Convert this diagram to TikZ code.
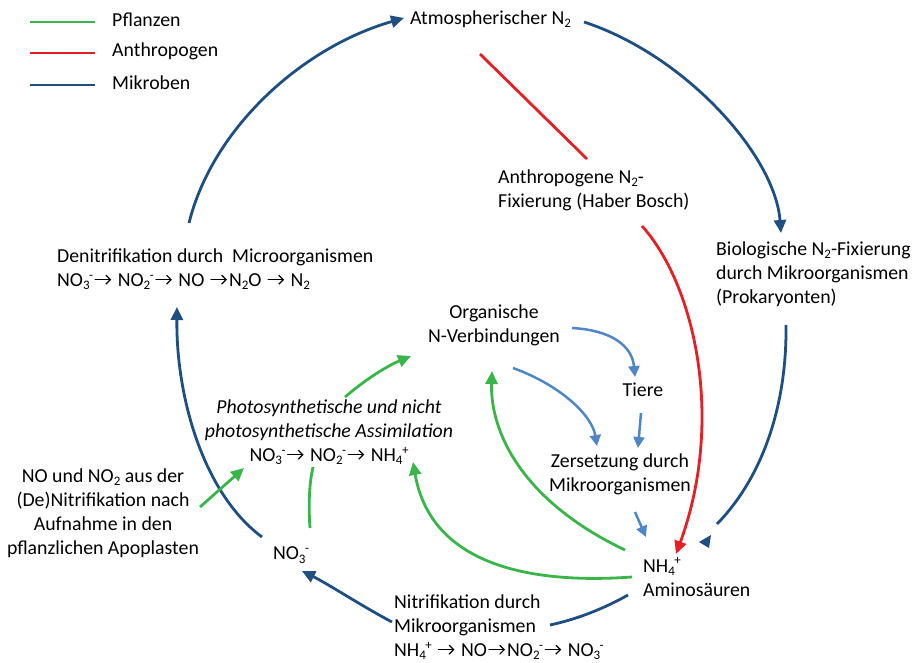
\documentclass[tikz,border=0pt]{standalone}
\usepackage{fontspec}
\setmainfont{Carlito}
\usetikzlibrary{arrows.meta}
\definecolor{cgreen}{RGB}{57,181,74}
\definecolor{cred}{RGB}{228,32,36}
\definecolor{cblue}{RGB}{31,78,128}
\definecolor{clblue}{RGB}{79,134,198}
\newcommand\rar{\kern1.5pt\tikz[baseline=-6.5pt]{\draw[line width=1.2pt,line cap=round,-{Straight Barb[length=4.5pt,width=9pt,line width=1.2pt]}] (0pt,0pt) -- (16pt,0pt);}\kern1.5pt}
\newcommand\lo[1]{\raisebox{-0.35ex}{\fontsize{13}{13}\selectfont #1}}
\newcommand\hi[1]{\raisebox{0.75ex}{\fontsize{13}{13}\selectfont #1}}
\newcommand\ion[2]{\lo{#1}\kern-0.5pt\hi{#2}}
\begin{document}
\begin{tikzpicture}[x=1pt,y=-1pt,font=\fontsize{19.8}{24}\selectfont,
  lbl/.style={inner sep=0pt,align=left,anchor=west},
  ctr/.style={inner sep=0pt,align=center},
  tipA/.style={-{Triangle[length=13pt,width=12pt]}},
  tipB/.style={-{Triangle[length=11pt,width=11pt]}},
  mblue/.style={draw=cblue,line width=2.8pt},
  pgreen/.style={draw=cgreen,line width=2.8pt},
  ared/.style={draw=cred,line width=2.8pt},
  lblue/.style={draw=clblue,line width=2.5pt},
  legline/.style={line width=2.6pt}]
\useasboundingbox[fill=white] (0,0) rectangle (913,662);

% legend
\coordinate (g1) at (30,22); \coordinate (g2) at (95,22);
\coordinate (r1) at (30,53); \coordinate (r2) at (95,53);
\coordinate (b1) at (30,85); \coordinate (b2) at (95,85);
\draw[legline,cgreen] (g1) -- (g2);
\draw[legline,cred] (r1) -- (r2);
\draw[legline,cblue] (b1) -- (b2);
\node[lbl] (lg) at (112,20) {Pflanzen};
\node[lbl] (lr) at (112,51) {Anthropogen};
\node[lbl] (lb) at (112,83) {Mikroben};

% text nodes
\node[lbl] (atm) at (410,19) {Atmospherischer N\lo{2}};
\node[lbl] (anth) at (498,190) {Anthropogene N\lo{2}-\\Fixierung (Haber Bosch)};
\node[lbl] (bio) at (716,274) {Biologische N\lo{2}-Fixierung\\durch Mikroorganismen\\(Prokaryonten)};
\node[lbl] (denit) at (57,269) {Denitrifikation durch\ \ Microorganismen\\NO\ion{3}{-}\rar\ NO\ion{2}{-}\rar\ NO \rar N\lo{2}O \rar\ N\lo{2}};
\node[ctr] (org) at (494,325) {Organische\\N-Verbindungen};
\node[ctr] (tiere) at (643,390) {Tiere};
\node[ctr] (zers) at (620,474) {Zersetzung durch\\Mikroorganismen};
\node[lbl] (nh4) at (643,577) {NH\ion{4}{+}\\Aminosäuren};
\node[lbl] (nitri) at (394,627) {Nitrifikation durch\\Mikroorganismen\\NH\ion{4}{+} \rar\ NO\rar NO\ion{2}{-}\rar\ NO\ion{3}{-}};
\node[ctr] (no3) at (291,555) {NO\ion{3}{-}};
\node[ctr] (assim) at (329,432) {\itshape Photosynthetische und nicht\\\itshape photosynthetische Assimilation\\NO\ion{3}{-}\rar\ NO\ion{2}{-}\rar\ NH\ion{4}{+}};
\node[ctr] (nono) at (103,513) {NO und NO\lo{2} aus der\\(De)Nitrifikation nach\\Aufnahme in den\\pflanzlichen Apoplasten};

% connector end points
\coordinate (c1a) at (189,223); \coordinate (c1b) at (404,18);
\coordinate (c2a) at (584,22);  \coordinate (c2b) at (781,233);
\coordinate (c3a) at (480,54);  \coordinate (c3b) at (587,159);
\coordinate (c4a) at (642,226); \coordinate (c4b) at (676,554);
\coordinate (c5a) at (786,325); \coordinate (c5b) at (717,524);
\coordinate (h5a) at (699,542); \coordinate (h5b) at (711,535); \coordinate (h5c) at (709,548);
\coordinate (c6a) at (572,328); \coordinate (c6b) at (635,377);
\coordinate (c7a) at (513,368); \coordinate (c7b) at (597,446);
\coordinate (c8a) at (641,413); \coordinate (c8b) at (638,448);
\coordinate (c9a) at (635,512); \coordinate (c9b) at (646,537);
\coordinate (c10a) at (625,550); \coordinate (c10b) at (492,371);
\coordinate (c11a) at (632,577); \coordinate (c11b) at (413,462);
\coordinate (c12a) at (628,595); \coordinate (c12b) at (550,625);
\coordinate (c12c) at (392,622); \coordinate (c12d) at (302,571);
\coordinate (c13a) at (262,537); \coordinate (c13b) at (177,307);
\coordinate (c14a) at (310,528); \coordinate (c14b) at (313,467);
\coordinate (c15a) at (200,507); \coordinate (c15b) at (244,468);
\coordinate (c16a) at (345,397); \coordinate (c16b) at (411,356);

% blue microbial cycle
\draw[mblue,tipA] (c1a) .. controls (212,130) and (300,48) .. (c1b);
\draw[mblue,tipA] (c2a) .. controls (685,55) and (775,155) .. (c2b);
\draw[mblue] (c5a) .. controls (787,410) and (760,480) .. (c5b);
\fill[cblue] (h5a) -- (h5b) -- (h5c) -- cycle;
\draw[mblue] (c12a) .. controls (605,608) and (578,619) .. (c12b);
\draw[mblue,tipA] (c12c) .. controls (360,605) and (330,585) .. (c12d);
\draw[mblue,tipA] (c13a) .. controls (205,495) and (176,400) .. (c13b);

% anthropogenic
\draw[ared] (c3a) -- (c3b);
\draw[ared,tipA] (c4a) .. controls (695,285) and (725,420) .. (c4b);

% light blue
\draw[lblue,tipB] (c6a) .. controls (610,330) and (632,345) .. (c6b);
\draw[lblue,tipB] (c7a) .. controls (560,385) and (592,415) .. (c7b);
\draw[lblue,tipB] (c8a) -- (c8b);
\draw[lblue,tipB] (c9a) -- (c9b);

% plants
\draw[pgreen,tipA] (c10a) .. controls (520,500) and (490,430) .. (c10b);
\draw[pgreen,tipA] (c11a) .. controls (520,585) and (430,560) .. (c11b);
\draw[pgreen] (c14a) .. controls (308,500) and (310,480) .. (c14b);
\draw[pgreen,tipA] (c15a) -- (c15b);
\draw[pgreen,tipA] (c16a) .. controls (365,380) and (385,367) .. (c16b);
\end{tikzpicture}
\end{document}
